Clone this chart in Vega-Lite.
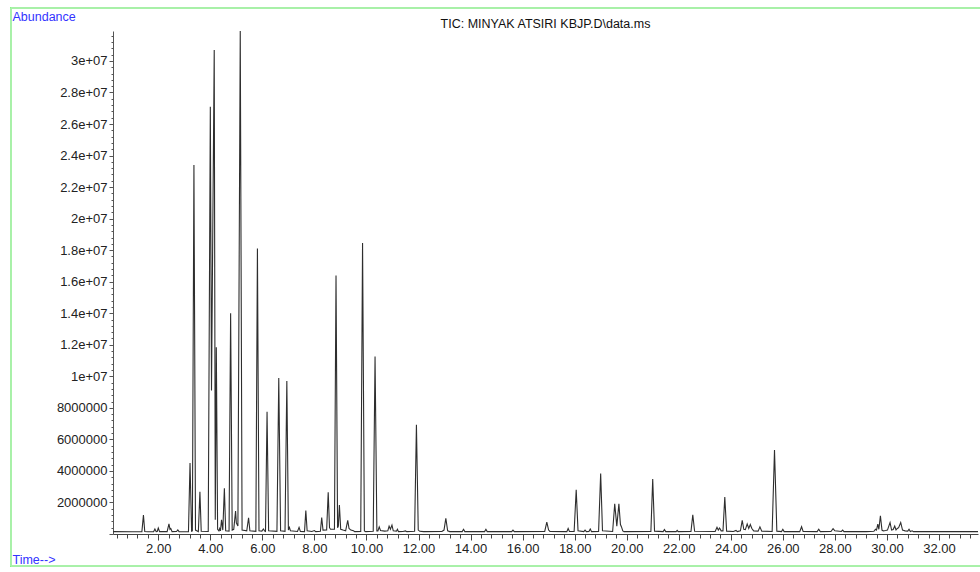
{
  "$schema": "https://vega.github.io/schema/vega-lite/v6.json",
  "autosize": "none",
  "width": 865,
  "height": 503,
  "padding": {"left": 113, "top": 31, "right": 2, "bottom": 38},
  "background": "white",
  "config": {
    "view": {"stroke": null},
    "font": "Liberation Sans"
  },
  "title": {
    "text": "TIC: MINYAK ATSIRI KBJP.D\\data.ms",
    "anchor": "middle",
    "font": "Liberation Sans",
    "fontSize": 12.5,
    "fontWeight": "normal",
    "color": "#111111",
    "baseline": "alphabetic",
    "offset": 3,
    "dy": 36
  },
  "resolve": {"axis": {"x": "independent", "y": "independent"}},
  "data": {
    "values": [
      {"t": 0.26, "a": 150000}, {"t": 1.0, "a": 140000}, {"t": 1.37, "a": 150000}, {"t": 1.43, "a": 1200000}, {"t": 1.48, "a": 160000},
      {"t": 1.6, "a": 140000}, {"t": 1.82, "a": 150000}, {"t": 1.87, "a": 320000}, {"t": 1.92, "a": 150000}, {"t": 1.96, "a": 160000},
      {"t": 2.0, "a": 380000}, {"t": 2.05, "a": 150000}, {"t": 2.34, "a": 150000}, {"t": 2.41, "a": 640000}, {"t": 2.45, "a": 300000},
      {"t": 2.48, "a": 350000}, {"t": 2.53, "a": 150000}, {"t": 2.7, "a": 160000}, {"t": 2.75, "a": 260000}, {"t": 2.8, "a": 150000},
      {"t": 3.16, "a": 140000}, {"t": 3.22, "a": 4500000}, {"t": 3.28, "a": 180000}, {"t": 3.31, "a": 200000}, {"t": 3.37, "a": 23400000},
      {"t": 3.43, "a": 250000}, {"t": 3.54, "a": 150000}, {"t": 3.6, "a": 2680000}, {"t": 3.65, "a": 170000}, {"t": 3.92, "a": 160000},
      {"t": 4.0, "a": 27100000}, {"t": 4.045, "a": 9100000}, {"t": 4.15, "a": 30700000}, {"t": 4.19, "a": 900000}, {"t": 4.23, "a": 11850000},
      {"t": 4.28, "a": 300000}, {"t": 4.33, "a": 200000}, {"t": 4.36, "a": 350000}, {"t": 4.39, "a": 200000}, {"t": 4.43, "a": 900000},
      {"t": 4.48, "a": 250000}, {"t": 4.54, "a": 2900000}, {"t": 4.59, "a": 200000}, {"t": 4.72, "a": 180000}, {"t": 4.78, "a": 14000000},
      {"t": 4.84, "a": 250000}, {"t": 4.9, "a": 300000}, {"t": 4.97, "a": 1450000}, {"t": 5.0, "a": 700000}, {"t": 5.06, "a": 500000},
      {"t": 5.15, "a": 31900000}, {"t": 5.22, "a": 250000}, {"t": 5.4, "a": 200000}, {"t": 5.47, "a": 1030000}, {"t": 5.52, "a": 200000},
      {"t": 5.75, "a": 170000}, {"t": 5.81, "a": 18100000}, {"t": 5.87, "a": 200000}, {"t": 5.98, "a": 180000}, {"t": 6.04, "a": 320000},
      {"t": 6.09, "a": 180000}, {"t": 6.12, "a": 160000}, {"t": 6.18, "a": 7750000}, {"t": 6.24, "a": 200000}, {"t": 6.56, "a": 170000},
      {"t": 6.63, "a": 9900000}, {"t": 6.7, "a": 200000}, {"t": 6.87, "a": 170000}, {"t": 6.94, "a": 9700000}, {"t": 7.0, "a": 250000},
      {"t": 7.04, "a": 420000}, {"t": 7.08, "a": 200000}, {"t": 7.35, "a": 160000}, {"t": 7.41, "a": 420000}, {"t": 7.46, "a": 160000},
      {"t": 7.62, "a": 150000}, {"t": 7.67, "a": 1490000}, {"t": 7.72, "a": 200000}, {"t": 7.9, "a": 160000}, {"t": 8.0, "a": 220000},
      {"t": 8.05, "a": 150000}, {"t": 8.23, "a": 170000}, {"t": 8.28, "a": 1050000}, {"t": 8.33, "a": 250000}, {"t": 8.47, "a": 260000},
      {"t": 8.53, "a": 2640000}, {"t": 8.58, "a": 400000}, {"t": 8.62, "a": 300000}, {"t": 8.77, "a": 300000}, {"t": 8.83, "a": 16400000},
      {"t": 8.89, "a": 400000}, {"t": 8.92, "a": 500000}, {"t": 8.96, "a": 1830000}, {"t": 9.01, "a": 300000}, {"t": 9.1, "a": 250000},
      {"t": 9.2, "a": 200000}, {"t": 9.28, "a": 860000}, {"t": 9.33, "a": 350000}, {"t": 9.4, "a": 250000}, {"t": 9.5, "a": 200000},
      {"t": 9.55, "a": 150000}, {"t": 9.78, "a": 160000}, {"t": 9.85, "a": 18450000}, {"t": 9.92, "a": 200000}, {"t": 9.97, "a": 150000},
      {"t": 10.1, "a": 160000}, {"t": 10.26, "a": 170000}, {"t": 10.33, "a": 11250000}, {"t": 10.4, "a": 200000}, {"t": 10.44, "a": 200000},
      {"t": 10.49, "a": 450000}, {"t": 10.54, "a": 220000}, {"t": 10.7, "a": 180000}, {"t": 10.82, "a": 200000}, {"t": 10.87, "a": 500000},
      {"t": 10.92, "a": 300000}, {"t": 10.98, "a": 560000}, {"t": 11.03, "a": 200000}, {"t": 11.15, "a": 180000}, {"t": 11.19, "a": 300000},
      {"t": 11.23, "a": 150000}, {"t": 11.4, "a": 160000}, {"t": 11.5, "a": 200000}, {"t": 11.55, "a": 150000}, {"t": 11.85, "a": 170000},
      {"t": 11.92, "a": 6930000}, {"t": 11.99, "a": 250000}, {"t": 12.05, "a": 170000}, {"t": 12.2, "a": 150000}, {"t": 12.9, "a": 160000},
      {"t": 12.98, "a": 250000}, {"t": 13.05, "a": 1000000}, {"t": 13.12, "a": 200000}, {"t": 13.2, "a": 150000}, {"t": 13.68, "a": 150000},
      {"t": 13.73, "a": 300000}, {"t": 13.78, "a": 150000}, {"t": 14.54, "a": 150000}, {"t": 14.59, "a": 300000}, {"t": 14.64, "a": 150000},
      {"t": 15.58, "a": 150000}, {"t": 15.63, "a": 250000}, {"t": 15.68, "a": 150000}, {"t": 16.85, "a": 160000}, {"t": 16.93, "a": 750000},
      {"t": 17.0, "a": 250000}, {"t": 17.05, "a": 160000}, {"t": 17.7, "a": 150000}, {"t": 17.75, "a": 350000}, {"t": 17.8, "a": 160000},
      {"t": 17.98, "a": 160000}, {"t": 18.06, "a": 2800000}, {"t": 18.13, "a": 200000}, {"t": 18.35, "a": 150000}, {"t": 18.4, "a": 250000},
      {"t": 18.45, "a": 150000}, {"t": 18.55, "a": 160000}, {"t": 18.6, "a": 320000}, {"t": 18.65, "a": 150000}, {"t": 18.92, "a": 160000},
      {"t": 19.0, "a": 3840000}, {"t": 19.07, "a": 200000}, {"t": 19.46, "a": 160000}, {"t": 19.54, "a": 1910000}, {"t": 19.62, "a": 500000},
      {"t": 19.7, "a": 1910000}, {"t": 19.76, "a": 600000}, {"t": 19.8, "a": 450000}, {"t": 19.85, "a": 200000}, {"t": 19.9, "a": 150000},
      {"t": 20.93, "a": 160000}, {"t": 21.0, "a": 3490000}, {"t": 21.07, "a": 180000}, {"t": 21.4, "a": 150000}, {"t": 21.45, "a": 280000},
      {"t": 21.5, "a": 150000}, {"t": 21.9, "a": 150000}, {"t": 21.94, "a": 230000}, {"t": 21.98, "a": 150000}, {"t": 22.47, "a": 160000},
      {"t": 22.54, "a": 1210000}, {"t": 22.61, "a": 170000}, {"t": 23.4, "a": 160000}, {"t": 23.47, "a": 420000}, {"t": 23.52, "a": 250000},
      {"t": 23.57, "a": 380000}, {"t": 23.63, "a": 200000}, {"t": 23.7, "a": 200000}, {"t": 23.77, "a": 2340000}, {"t": 23.84, "a": 180000},
      {"t": 24.1, "a": 160000}, {"t": 24.2, "a": 230000}, {"t": 24.25, "a": 150000}, {"t": 24.37, "a": 200000}, {"t": 24.44, "a": 860000},
      {"t": 24.5, "a": 300000}, {"t": 24.56, "a": 280000}, {"t": 24.63, "a": 640000}, {"t": 24.69, "a": 350000}, {"t": 24.75, "a": 600000},
      {"t": 24.81, "a": 350000}, {"t": 24.88, "a": 200000}, {"t": 25.05, "a": 180000}, {"t": 25.12, "a": 450000}, {"t": 25.19, "a": 180000},
      {"t": 25.59, "a": 160000}, {"t": 25.68, "a": 5330000}, {"t": 25.77, "a": 180000}, {"t": 25.95, "a": 150000}, {"t": 26.0, "a": 300000},
      {"t": 26.05, "a": 150000}, {"t": 26.65, "a": 150000}, {"t": 26.72, "a": 460000}, {"t": 26.78, "a": 160000}, {"t": 27.32, "a": 150000},
      {"t": 27.38, "a": 300000}, {"t": 27.44, "a": 150000}, {"t": 27.85, "a": 160000}, {"t": 27.93, "a": 340000}, {"t": 28.0, "a": 200000},
      {"t": 28.25, "a": 160000}, {"t": 28.3, "a": 250000}, {"t": 28.35, "a": 150000}, {"t": 28.8, "a": 150000}, {"t": 29.0, "a": 160000},
      {"t": 29.2, "a": 150000}, {"t": 29.5, "a": 170000}, {"t": 29.56, "a": 300000}, {"t": 29.6, "a": 250000}, {"t": 29.65, "a": 620000},
      {"t": 29.69, "a": 300000}, {"t": 29.75, "a": 1160000}, {"t": 29.81, "a": 250000}, {"t": 29.86, "a": 200000}, {"t": 29.95, "a": 220000},
      {"t": 30.02, "a": 250000}, {"t": 30.12, "a": 730000}, {"t": 30.18, "a": 250000}, {"t": 30.24, "a": 280000}, {"t": 30.3, "a": 500000},
      {"t": 30.35, "a": 260000}, {"t": 30.4, "a": 350000}, {"t": 30.45, "a": 400000}, {"t": 30.53, "a": 730000}, {"t": 30.6, "a": 250000},
      {"t": 30.7, "a": 200000}, {"t": 30.8, "a": 180000}, {"t": 30.85, "a": 300000}, {"t": 30.9, "a": 160000}, {"t": 30.97, "a": 200000},
      {"t": 31.02, "a": 150000}, {"t": 31.5, "a": 150000}, {"t": 32.5, "a": 150000}, {"t": 33.5, "a": 150000}
    ]
  },
  "layer": [
    {
      "mark": {"type": "line", "color": "#2e2e2e", "strokeWidth": 1.1, "clip": true},
      "encoding": {
        "x": {
          "field": "t",
          "type": "quantitative",
          "scale": {"domain": [0.26, 33.5], "nice": false, "zero": false},
          "axis": {
            "orient": "bottom",
            "title": "Time-->",
            "titleColor": "#3333ff",
            "titleFont": "Liberation Sans",
            "titleFontSize": 12.5,
            "titleFontWeight": "normal",
            "titleAngle": 0,
            "titleAlign": "left",
            "titleBaseline": "alphabetic",
            "titleAnchor": "start",
            "titleX": -101,
            "titleY": 29,
            "values": [0.4,0.8,1.2,1.6,2,2.4,2.8,3.2,3.6,4,4.4,4.8,5.2,5.6,6,6.4,6.8,7.2,7.6,8,8.4,8.8,9.2,9.6,10,10.4,10.8,11.2,11.6,12,12.4,12.8,13.2,13.6,14,14.4,14.8,15.2,15.6,16,16.4,16.8,17.2,17.6,18,18.4,18.8,19.2,19.6,20,20.4,20.8,21.2,21.6,22,22.4,22.8,23.2,23.6,24,24.4,24.8,25.2,25.6,26,26.4,26.8,27.2,27.6,28,28.4,28.8,29.2,29.6,30,30.4,30.8,31.2,31.6,32,32.4,32.8,33.2],
            "labelExpr": "abs(datum.value/2 - round(datum.value/2)) < 0.01 ? format(datum.value, '.2f') : ''",
            "labelOverlap": false,
            "labelFlush": false,
            "labelBound": false,
            "labelFont": "Liberation Sans",
            "labelFontSize": 13,
            "labelColor": "#222222",
            "labelPadding": 2,
            "tickSize": {"condition": {"test": "abs(datum.value/2 - round(datum.value/2)) < 0.01", "value": 6}, "value": 4},
            "tickColor": "#444444",
            "tickWidth": 1,
            "domain": true,
            "domainColor": "#444444",
            "domainWidth": 1,
            "grid": false
          }
        },
        "y": {
          "field": "a",
          "type": "quantitative",
          "scale": {"domain": [0, 31900000], "nice": false},
          "axis": {
            "orient": "left",
            "title": "Abundance",
            "titleColor": "#3333ff",
            "titleFont": "Liberation Sans",
            "titleFontSize": 12.5,
            "titleFontWeight": "normal",
            "titleAngle": 0,
            "titleAlign": "left",
            "titleBaseline": "alphabetic",
            "titleAnchor": "start",
            "titleX": -101,
            "titleY": -11,
            "values": [0,400000,800000,1200000,1600000,2000000,2400000,2800000,3200000,3600000,4000000,4400000,4800000,5200000,5600000,6000000,6400000,6800000,7200000,7600000,8000000,8400000,8800000,9200000,9600000,10000000,10400000,10800000,11200000,11600000,12000000,12400000,12800000,13200000,13600000,14000000,14400000,14800000,15200000,15600000,16000000,16400000,16800000,17200000,17600000,18000000,18400000,18800000,19200000,19600000,20000000,20400000,20800000,21200000,21600000,22000000,22400000,22800000,23200000,23600000,24000000,24400000,24800000,25200000,25600000,26000000,26400000,26800000,27200000,27600000,28000000,28400000,28800000,29200000,29600000,30000000,30400000,30800000,31200000,31600000],
            "labelExpr": "(datum.value % 2000000 != 0 || datum.value == 0) ? '' : (datum.value >= 10000000 ? replace(format(datum.value, '.2~e'), 'e+7', 'e+07') : format(datum.value, 'd'))",
            "labelOverlap": false,
            "labelBound": false,
            "labelFont": "Liberation Sans",
            "labelFontSize": 13,
            "labelColor": "#222222",
            "labelPadding": 2,
            "tickSize": {"condition": {"test": "datum.value % 2000000 == 0", "value": 4}, "value": 2},
            "tickColor": "#555555",
            "tickWidth": 1,
            "domain": true,
            "domainColor": "#555555",
            "domainWidth": 1,
            "grid": false
          }
        }
      }
    },
    {
      "mark": {"type": "rect", "filled": false, "stroke": "#a8f0a8", "strokeWidth": 1, "clip": false},
      "encoding": {
        "x": {"datum": -3.66, "type": "quantitative", "axis": null},
        "x2": {"datum": 34.5},
        "y": {"datum": 33360000, "type": "quantitative", "axis": null},
        "y2": {"datum": -2030000}
      }
    }
  ]
}
